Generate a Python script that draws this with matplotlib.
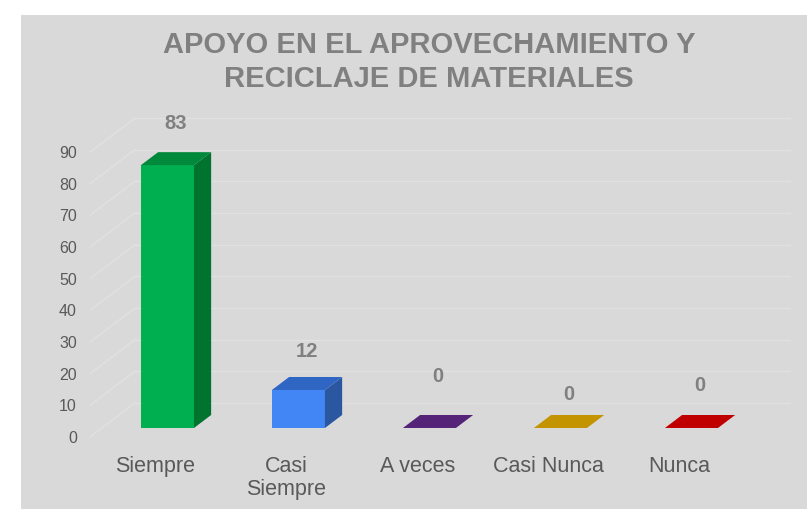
import matplotlib
matplotlib.use("Agg")
import matplotlib.pyplot as plt
from matplotlib.patches import Rectangle, Polygon

# ---- data ----
categories = ["Siempre", "Casi\nSiempre", "A veces", "Casi Nunca", "Nunca"]
values = [83, 12, 0, 0, 0]
yticks = [0, 10, 20, 30, 40, 50, 60, 70, 80, 90]
title = "APOYO EN EL APROVECHAMIENTO Y\nRECICLAJE DE MATERIALES"

# ---- styles ----
front_colors = ["#00b050", "#4285f4", "#552479", "#c49300", "#c00000"]
side_colors = ["#00732f", "#2b56a0", "#3d1a58", "#8c6900", "#8a0000"]
top_colors = ["#00883b", "#2f66c4", "#552479", "#c49300", "#c00000"]
label_lift = [8.9, 7.9, 12.0, 6.4, 9.2]   # label height above bar top (layout)

bg = "#d9d9d9"
grid_c = "#e1e1e1"
text_c = "#595959"
label_c = "#808080"

# oblique depth (full wall depth) in data units
DX, DY = 0.3435, 10.74
d0, d1 = 0.265, 0.647          # bar front / back depth fractions
bw = 0.405

fig = plt.figure(figsize=(8.07, 5.09), dpi=100)
fig.patch.set_facecolor("white")
fig.add_artist(Rectangle((21 / 807, 0), 1 - 21 / 807, 1 - 15 / 509,
                         transform=fig.transFigure, facecolor=bg,
                         edgecolor="none", zorder=0))

ax = fig.add_axes([90 / 807, 72 / 509, 700 / 807, 319 / 509])
ax.set_facecolor("none")
n = len(categories)
ax.set_xlim(-0.5, n - 0.5 + DX)
ax.set_ylim(0, yticks[-1] + DY)
for s in ax.spines.values():
    s.set_visible(False)

# gridlines: side wall diagonals + back wall horizontals
for v in yticks:
    ax.plot([-0.5, -0.5 + DX], [v, v + DY], color=grid_c, lw=1, zorder=1,
            clip_on=False)
    ax.plot([-0.5 + DX, n - 0.5 + DX], [v + DY, v + DY], color=grid_c, lw=1,
            zorder=1, clip_on=False)

ox0, oy0 = d0 * DX, d0 * DY
ox1, oy1 = d1 * DX, d1 * DY
xs = list(range(n))

# front faces
ax.bar([x + ox0 for x in xs], values, width=bw, bottom=oy0,
       color=front_colors, zorder=3, linewidth=0)

for i, v in enumerate(values):
    xl = i - bw / 2
    xr = i + bw / 2
    # side face
    if v > 0:
        side = Polygon([(xr + ox0, oy0), (xr + ox1, oy1),
                        (xr + ox1, v + oy1), (xr + ox0, v + oy0)],
                       closed=True, facecolor=side_colors[i], edgecolor="none",
                       zorder=3)
        ax.add_patch(side)
    top = Polygon([(xl + ox0, v + oy0), (xr + ox0, v + oy0),
                   (xr + ox1, v + oy1), (xl + ox1, v + oy1)],
                  closed=True, facecolor=top_colors[i], edgecolor="none",
                  zorder=4)
    ax.add_patch(top)
    ax.text(i + (ox0 + ox1) / 2, v + oy1 + label_lift[i], str(v),
            ha="center", va="center", fontsize=14.5, fontweight="bold",
            color=label_c, family="Liberation Sans", zorder=5)

ax.set_yticks(yticks)
ax.set_yticklabels([str(t) for t in yticks], fontsize=11.5, color=text_c,
                   family="Liberation Sans")
ax.set_xticks(xs)
ax.set_xticklabels(categories, fontsize=15.5, color=text_c,
                   family="Liberation Sans", linespacing=1.12)
ax.tick_params(axis="y", length=0, pad=9.5)
ax.tick_params(axis="x", length=0, pad=14)

fig.text(429 / 807, 1 - 62 / 509, title, ha="center", va="center",
         fontsize=21, fontweight="bold", color=label_c,
         family="Liberation Sans", linespacing=1.25)

fig.savefig("out.png", dpi=100, facecolor=fig.get_facecolor())
